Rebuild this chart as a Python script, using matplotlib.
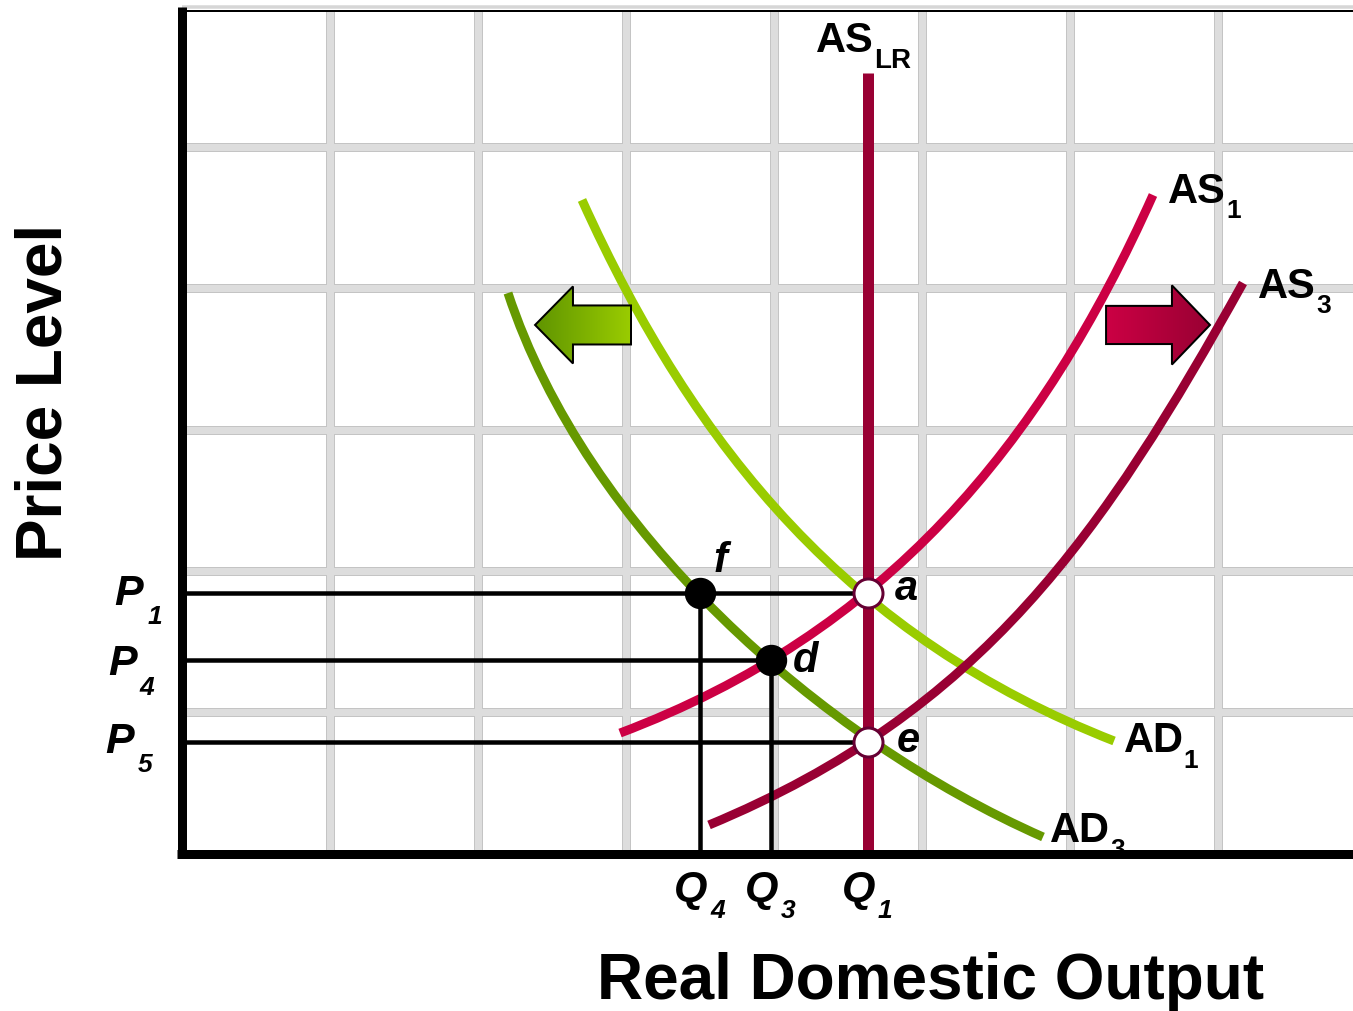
import numpy as np
import matplotlib
matplotlib.use("Agg")
import matplotlib.pyplot as plt
from matplotlib.path import Path
from matplotlib.patches import PathPatch, Polygon
from matplotlib.colors import LinearSegmentedColormap

plt.rcParams['font.family'] = ['Liberation Sans', 'DejaVu Sans']

# ---- curve samples: (real domestic output, price level) ----
ad1_q = [2.704, 3.015, 3.278, 3.589, 3.994, 4.636, 5.237, 5.723, 6.298]
ad1_p = [4.624, 3.994, 3.492, 2.997, 2.410, 1.844, 1.378, 1.038, 0.798]
ad3_q = [2.204, 2.623, 2.981, 3.501, 3.981, 4.636, 5.237, 5.818]
ad3_p = [3.966, 3.018, 2.431, 1.844, 1.371, 0.791, 0.430, 0.119]
as1_q = [2.961, 3.501, 3.981, 4.636, 5.257, 5.642, 5.933, 6.203, 6.561]
as1_p = [0.854, 1.109, 1.371, 1.844, 2.481, 2.997, 3.372, 3.938, 4.659]
as3_q = [3.562, 3.981, 4.636, 5.237, 5.777, 6.291, 6.608, 6.946, 7.169]
as3_p = [0.204, 0.451, 0.791, 1.229, 1.866, 2.573, 2.997, 3.612, 4.037]
aslr_q = 4.636
aslr_top = 5.522

# ---- equilibrium points ----
point_names = ['f', 'd', 'a', 'e']
point_q = [3.501, 3.981, 4.636, 4.636]
point_p = [1.844, 1.371, 1.844, 0.791]
point_filled = [True, True, False, False]

# ---- axis markers ----
price_subs = ['1', '4', '5']
price_levels = [1.844, 1.371, 0.791]
price_line_ends = [4.636, 3.981, 4.636]
output_subs = ['4', '3', '1']
output_levels = [3.501, 3.981, 4.636]
output_line_tops = [1.844, 1.371, None]

# ---- colours ----
C_AD1 = '#99cc00'
C_AD3 = '#669900'
C_AS1 = '#cc0044'
C_AS3 = '#990033'
C_RING = '#660033'

W, H = 1353, 1011
fig = plt.figure(figsize=(W / 100, H / 100), dpi=100)
ax = fig.add_axes([0, 0, 1, 1])
X0, Y0, SX, SY = 181.7, 853.8, 148.04, 141.4
XMIN, XMAX = -X0 / SX, (W - X0) / SX
YMIN, YMAX = (Y0 - H) / SY, Y0 / SY
ax.set_xlim(XMIN, XMAX)
ax.set_ylim(YMIN, YMAX)
ax.axis('off')

PX = 72 / 100  # points per pixel

# ---- grid ----
TOP_GRID = 5.96
for lw, col, z in [(9, '#c4c4c4', 1), (7, '#dddddd', 1.1)]:
    for gx in range(1, 8):
        ax.plot([gx, gx], [0, TOP_GRID], color=col, lw=lw * PX, zorder=z,
                solid_capstyle='butt')
    for gy in range(1, 6):
        ax.plot([0, XMAX], [gy, gy], color=col, lw=lw * PX, zorder=z,
                solid_capstyle='butt')
ax.plot([0, XMAX], [5.992, 5.992], color='#d6d6d6', lw=3.5 * PX, zorder=1.2,
        solid_capstyle='butt')
ax.plot([0, XMAX], [5.962, 5.962], color='black', lw=2 * PX, zorder=1.3,
        solid_capstyle='butt')


def bezier_path(xs, ys, iters=30):
    """Least-squares cubic Bezier through the samples (ends fixed)."""
    scale = np.array([SX, SY])
    pts = np.column_stack([xs, ys]).astype(float) * scale
    p0, p3 = pts[0], pts[-1]
    d = np.r_[0, np.cumsum(np.hypot(*np.diff(pts, axis=0).T))]
    t = d / d[-1]
    dense = np.linspace(0, 1, 2001)
    for _ in range(iters):
        a1 = 3 * (1 - t) ** 2 * t
        a2 = 3 * (1 - t) * t ** 2
        A = np.column_stack([a1, a2])
        rhs = pts - np.outer((1 - t) ** 3, p0) - np.outer(t ** 3, p3)
        sol, *_ = np.linalg.lstsq(A, rhs, rcond=None)
        p1, p2 = sol
        curve = (np.outer((1 - dense) ** 3, p0) + np.outer(3 * (1 - dense) ** 2 * dense, p1)
                 + np.outer(3 * (1 - dense) * dense ** 2, p2) + np.outer(dense ** 3, p3))
        dist = ((pts[:, None, :] - curve[None, :, :]) ** 2).sum(-1)
        t = dense[dist.argmin(axis=1)]
        t[0], t[-1] = 0.0, 1.0
    verts = np.array([p0, p1, p2, p3]) / scale
    return Path(verts, [Path.MOVETO, Path.CURVE4, Path.CURVE4, Path.CURVE4])


for qs, ps, col in [(ad1_q, ad1_p, C_AD1), (ad3_q, ad3_p, C_AD3),
                    (as1_q, as1_p, C_AS1), (as3_q, as3_p, C_AS3)]:
    ax.add_patch(PathPatch(bezier_path(qs, ps), fill=False, edgecolor=col,
                           lw=9 * PX, capstyle='butt', zorder=3))

# long-run aggregate supply
ax.plot([aslr_q, aslr_q], [0, aslr_top], color=C_AS3, lw=11 * PX,
        solid_capstyle='butt', zorder=4)

# ---- guide lines ----
for p, qend in zip(price_levels, price_line_ends):
    ax.plot([0, qend], [p, p], color='black', lw=4.5 * PX, zorder=5,
            solid_capstyle='butt')
for q, ptop in zip(output_levels, output_line_tops):
    if ptop is not None:
        ax.plot([q, q], [0, ptop], color='black', lw=4.5 * PX, zorder=5,
                solid_capstyle='butt')


# ---- shift arrows with gradient fill ----
def block_arrow(tail, base, tip, yc, sh, hh, c_left, c_right):
    verts = [(tail, yc + sh), (base, yc + sh), (base, yc + hh), (tip, yc),
             (base, yc - hh), (base, yc - sh), (tail, yc - sh)]
    clip = Polygon(verts, closed=True, facecolor='none', edgecolor='none')
    ax.add_patch(clip)
    cmap = LinearSegmentedColormap.from_list('g', [c_left, c_right])
    grad = np.linspace(0, 1, 256).reshape(1, -1)
    im = ax.imshow(grad, cmap=cmap, aspect='auto', zorder=5.5,
                   extent=[min(tail, tip), max(tail, tip), yc - hh, yc + hh],
                   interpolation='bilinear')
    im.set_clip_path(clip)
    ax.add_patch(Polygon(verts, closed=True, facecolor='none',
                         edgecolor='black', lw=2 * PX, zorder=5.6,
                         joinstyle='miter'))


block_arrow(3.035, 2.643, 2.387, 3.740, 0.138, 0.2725, '#5f9400', '#9acc00')
block_arrow(6.244, 6.689, 6.946, 3.740, 0.135, 0.280, '#cc0044', '#990033')
ax.set_xlim(XMIN, XMAX)
ax.set_ylim(YMIN, YMAX)

# ---- axes ----
ax.plot([0, 0], [-0.03, 5.989], color='black', lw=9 * PX, zorder=8,
        solid_capstyle='butt')
ax.plot([-0.03, XMAX], [0, 0], color='black', lw=9 * PX, zorder=8,
        solid_capstyle='butt')

# ---- equilibrium markers ----
for q, p, filled in zip(point_q, point_p, point_filled):
    if filled:
        ax.plot(q, p, 'o', ms=30 * PX, mfc='black', mec='black', zorder=9)
    else:
        ax.plot(q, p, 'o', ms=29 * PX, mfc='white', mec=C_RING,
                mew=3 * PX, zorder=9)

BOLD = dict(fontweight='bold', color='black')
ITAL = dict(fontweight='bold', fontstyle='italic', color='black')


def label(s, xy, off, size, style, coords='data', z=7):
    ax.annotate(s, xy=xy, xycoords=coords, xytext=off,
                textcoords='offset pixels', ha='left', va='baseline',
                fontsize=size, zorder=z, **style)


# point names
point_offsets = [(14, 21), (22, -12), (27, -7), (29, -10)]
for name, q, p, off in zip(point_names, point_q, point_p, point_offsets):
    label(name, (q, p), off, 30, ITAL)

# curve names
curve_labels = [('AS', 'LR'), ('AS', '1'), ('AS', '3'), ('AD', '1'), ('AD', '3')]
curve_anchors = [(aslr_q, aslr_top), (as1_q[-1], as1_p[-1]),
                 (as3_q[-1], as3_p[-1]), (ad1_q[-1], ad1_p[-1]),
                 (ad3_q[-1], ad3_p[-1])]
main_offsets = [(-52, 21), (15, -8), (15, -15), (10, -11), (7, -5)]
sub_offsets = [(6, 5), (73, -23), (73, -30), (69, -27), (67, -20)]
for (m, s), xy, mo, so in zip(curve_labels, curve_anchors, main_offsets,
                              sub_offsets):
    label(m, xy, mo, 30, BOLD)
    label(s, xy, so, 19 if s != 'LR' else 20, BOLD)

# price-level markers
p_main_offsets = [(-67, -12), (-73, -15), (-76, -11)]
p_sub_offsets = [(-34, -31), (-42, -35), (-44, -30)]
for sub, p, mo, so in zip(price_subs, price_levels, p_main_offsets,
                          p_sub_offsets):
    label('P', (0, p), mo, 31, ITAL)
    label(sub, (0, p), so, 19, ITAL)

# output markers
for sub, q in zip(output_subs, output_levels):
    label('Q', (q, 0), (-26, -47), 31, ITAL)
    label(sub, (q, 0), (10, -64), 19, ITAL)

# axis titles
ax.annotate('Real Domestic Output', xy=(930.5, H - 999), xycoords='figure pixels',
            ha='center', va='baseline', fontsize=46, **BOLD)
ax.annotate('Price Level', xy=(62, H - 392), xycoords='figure pixels',
            ha='center', va='baseline', rotation=90, rotation_mode='anchor',
            fontsize=46, **BOLD)

fig.savefig('out.png', dpi=100)
